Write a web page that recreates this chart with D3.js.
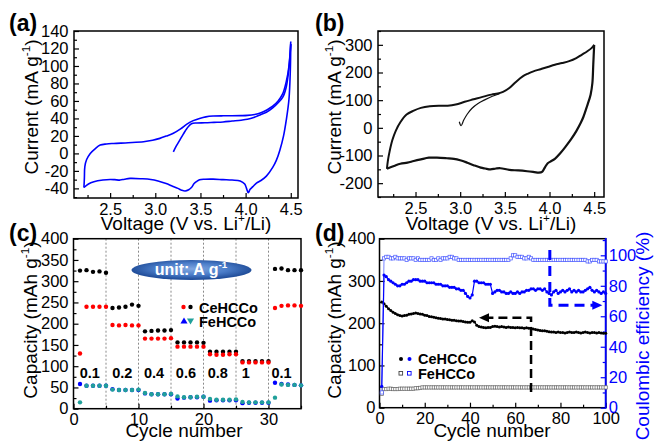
<!DOCTYPE html>
<html><head><meta charset="utf-8">
<script src="https://cdn.jsdelivr.net/npm/d3@7"></script>
<style>body{margin:0;background:#fff}svg{display:block}</style>
</head><body><svg id="c" width="654" height="444"></svg>
<script>
// ===================== DATA =====================
// (a) CV, CeHCCo (voltage V, current mA/g)
const aAnodic1V = [3.20,3.23,3.27,3.31,3.35,3.40,3.46,3.55,3.65,3.75,3.85,3.95,4.02,4.09,4.16,4.23,4.30,4.36,4.41,4.45,4.48,4.50];
const aAnodic1I = [1.8,8,15,22,28.6,34,34.8,35,35.5,36,37,38,39,41,44,47,52,58,64,76,98,125];
const aCathodicV = [4.50,4.495,4.48,4.45,4.42,4.38,4.34,4.30,4.23,4.17,4.12,4.08,4.05,4.03,4.01,3.99,3.94,3.85,3.75,3.64,3.55,3.49,3.46,3.43,3.40,3.37,3.33,3.29,3.25,3.18,3.12,3.03,2.95,2.85,2.72,2.66,2.61,2.55,2.50,2.42,2.32,2.26,2.21];
const aCathodicI = [125,95,62,38,20,4,-8,-16,-26,-31,-34,-38,-41,-45,-40,-35,-31.5,-30.5,-30,-29.4,-29.5,-30,-32,-34.5,-39,-41.5,-43,-42,-40,-37,-34.4,-31.5,-29.8,-29,-28.6,-29.5,-30.5,-30,-29.8,-30.5,-32.5,-35,-39];
const aAnodic2V = [2.21,2.215,2.22,2.24,2.28,2.33,2.39,2.46,2.54,2.70,2.87,2.97,3.05,3.12,3.20,3.28,3.35,3.42,3.49,3.56,3.64,3.75,3.85,3.95,4.02,4.10,4.17,4.24,4.30,4.36,4.41,4.45,4.48,4.50];
const aAnodic2I = [-39,-28,-15,-7,0,5,9.5,10.8,11.4,12.2,13.3,15,17.2,19.8,23,28,33.5,37.5,40,41.8,42.7,43,43,43.2,43.5,44.5,46.5,50,54,60,68,82,100,128];

// (b) CV, FeHCCo
const bStartV = [2.99,3.01,3.04,3.08,3.13,3.20,3.28,3.36,3.44];
const bStartI = [22,8,28,50,70,88,102,114,123];
const bAnodicV = [2.18,2.19,2.21,2.24,2.28,2.33,2.40,2.48,2.56,2.66,2.76,2.86,2.95,3.05,3.15,3.25,3.35,3.42,3.48,3.55,3.62,3.70,3.76,3.82,3.90,3.98,4.06,4.14,4.22,4.30,4.36,4.42,4.47,4.50];
const bAnodicI = [-148,-120,-85,-45,-10,20,48,62,72,78,80,80,84,94,103,112,120,124,130,144,165,186,196,204,212,220,228,234,241,252,264,276,288,300];
const bCathodicV = [4.50,4.49,4.48,4.46,4.42,4.38,4.35,4.30,4.24,4.18,4.12,4.06,4.01,3.98,3.95,3.92,3.88,3.83,3.75,3.65,3.55,3.45,3.40,3.34,3.28,3.23,3.15,3.08,3.00,2.93,2.85,2.74,2.65,2.56,2.48,2.41,2.33,2.26,2.18];
const bCathodicI = [300,230,162,120,78,40,18,-12,-42,-68,-92,-112,-122,-128,-142,-158,-162,-160,-157,-154,-152,-146,-147,-150,-147,-144,-135,-126,-117,-112,-110,-108,-108,-114,-120,-126,-130,-138,-148];

// (c) rate capability (capacity mAh/g per cycle 1..35)
const cCeBlack = [325,326,322,323,320, 237,238,240,245,242, 182,183,184,184,185, 156,156,156,156,155, 134,134,134,134,134, 112,112,112,112,112, 329,330,326,326,326];
const cCeRed   = [130,240,240,240,240, 197,196,197,196,196, 165,165,165,165,166, 146,146,146,146,146, 128,127,127,128,128, 109,109,109,109,109, 237,242,243,243,242];
const cFeBlue  = [58,54,54,54,54, 46,44,44,44,44, 36,34,34,34,34, 24,26,27,27,28, 19,20,20,20,20, 13,14,14,14,14, 61,58,57,56,55];
const cFeTeal  = [15,54,54,54,54, 45,44,44,44,45, 37,34,34,34,35, 29,27,27,28,28, 23,21,21,21,22, 16,15,15,15,15, 26,57,56,56,55];
const cRateLabels = ["0.1","0.2","0.4","0.6","0.8","1","0.1"];
const cRateLabelCycle = [2.5,7.5,12.4,17.3,22.2,26.5,32.0];
const cRateBounds = [5,10,15,20,25,30];

// (d) cycling (cycles 1..100)
const dCeCap = [250,246,240,234,230,226,223,220,218,217, 218,219,221,222,223,224,223,222,221,219, 218,216,215,214,213,212,211,210,210,209, 208,207,207,206,205,205,204,203,202,202, 206,203,195,192,191,190,189,190,190,192, 193,192,191,192,191,190,191,190,190,189, 190,189,189,188,189,188,188,186,185,184, 183,182,182,181,180,179,179,178,179,178, 178,177,178,179,178,178,179,178,177,178, 179,178,177,178,178,177,178,177,176,176];
const dFeCap = [33,44,44,45,45,44,44,44,45,45, 45,45,45,45,45,46,46,47,48,48, 48,48,48,48,48,48,48,48,48,48, 48,48,48,48,48,48,48,48,48,48, 48,48,48,48,48,48,48,48,48,48, 48,48,48,48,48,48,48,48,48,48, 48,48,48,48,48,48,48,48,48,48, 48,48,48,48,48,48,48,48,48,48, 48,48,48,48,48,48,48,48,48,48, 48,48,48,48,48,48,48,48,48,48];
const dCeCE = [14,87,86,84,83,82,81,80,80,81, 81,82,83,83,84,84,84,83,83,83, 82,82,82,82,81,81,81,80,80,80, 79,79,79,78,78,77,77,75,73,72, 74,83,83,82,82,82,81,81,81,75, 76,77,77,76,76,75,75,76,75,75, 76,75,76,76,77,77,78,78,77,78, 78,77,78,76,75,74,76,77,75,76, 77,76,77,78,76,77,76,77,76,76, 77,78,79,77,76,77,76,75,76,75];
const dFeCE = [10,98,99,99,98,98,99,98,98,98, 98,97,98,98,98,97,98,97,97,97, 97,97,98,97,97,98,97,98,98,98, 99,99,98,98,97,97,97,97,97,97, 97,97,97,97,97,97,97,97,97,97, 97,97,97,97,97,97,97,98,100,100, 99,99,99,98,98,99,98,97,97,97, 97,97,97,97,97,97,97,97,97,97, 97,97,97,97,97,97,97,97,97,97, 97,96,96,97,97,97,96,96,96,96];
// annotation arrows in data coordinates (cycle, value)
const dBlackArrow = {x:67, yFrom:37, yTo:213, xTip:44};
const dBlueArrow = {x:75.3, yFrom:103.5, yTo:67.2, xTip:98.5};

// tick values
const aXMajor=[2.5,3.0,3.5,4.0,4.5], aXMinor=[2.25,2.75,3.25,3.75,4.25];
const aYMajor=[-40,-20,0,20,40,60,80,100,120,140], aYMinor=[-50,-30,-10,10,30,50,70,90,110,130];
const bYMajor=[-200,-100,0,100,200,300], bYMinor=[-250,-150,-50,50,150,250,350];
const cXMajor=[0,10,20,30], cXMinor=[5,15,25,35];
const cYMajor=[0,50,100,150,200,250,300,350,400], cYMinor=[25,75,125,175,225,275,325,375];
const dXMajor=[0,20,40,60,80,100], dXMinor=[10,30,50,70,90];
const dYMajor=[0,100,200,300,400], dYMinor=[50,150,250,350];
const dRMajor=[0,20,40,60,80,100], dRMinor=[10,30,50,70,90,110];

// ===================== DRAW =====================
const FONT='"Liberation Sans", Arial, Helvetica, sans-serif';
const BLUE="#0000ff";
const svg=d3.select("#c");
svg.append("rect").attr("width",654).attr("height",444).attr("fill","#fff");

const xA=d3.scaleLinear().domain([2.1,4.58]).range([74,298]);
const yA=d3.scaleLinear().domain([-51,140]).range([198,31]);
const xB=d3.scaleLinear().domain([2.08,4.61]).range([378,604]);
const yB=d3.scaleLinear().domain([-250,350]).range([197,31]);
const xC=d3.scaleLinear().domain([0,35]).range([73.5,301]);
const yC=d3.scaleLinear().domain([0,400]).range([408.7,238.7]);
const xD=d3.scaleLinear().domain([0,100]).range([379.5,605.7]);
const yD=d3.scaleLinear().domain([0,400]).range([407.7,238.7]);
const yDR=d3.scaleLinear().domain([0,110.9]).range([407.7,238.7]);

function styleAxis(s,color,fs){
  s.select(".domain").remove();
  s.attr("font-size",fs).attr("font-family",FONT);
  s.selectAll("line").attr("stroke",color).attr("stroke-width",1.2);
  s.selectAll("text").attr("fill",color);
}
function axes(x,y,o){
  const g=svg.append("g");
  const [xl,xr]=x.range(), [yb,yt]=y.range();
  const fs=16.5;
  g.append("g").attr("transform",`translate(0,${yb})`).call(d3.axisBottom(x).tickValues(o.xMinor).tickSize(-3).tickFormat(()=>"")).call(s=>styleAxis(s,"#000",fs));
  g.append("g").attr("transform",`translate(0,${yb})`).call(d3.axisBottom(x).tickValues(o.xMajor).tickSize(-5).tickPadding(5).tickFormat(o.xFmt)).call(s=>styleAxis(s,"#000",fs));
  g.append("g").attr("transform",`translate(${xl},0)`).call(d3.axisLeft(y).tickValues(o.yMinor).tickSize(-3).tickFormat(()=>"")).call(s=>styleAxis(s,"#000",fs));
  g.append("g").attr("transform",`translate(${xl},0)`).call(d3.axisLeft(y).tickValues(o.yMajor).tickSize(-5).tickPadding(o.yPad||5).tickFormat(d=>d)).call(s=>styleAxis(s,"#000",fs));
  g.append("rect").attr("x",xl).attr("y",yt).attr("width",xr-xl).attr("height",yb-yt).attr("fill","none").attr("stroke","#000").attr("stroke-width",1.5);
  return g;
}
function rich(parent,parts,fs){
  let prevSup=false;
  parts.forEach(([t,sup])=>{
    const ts=parent.append("tspan").text(t);
    if(sup){ts.attr("font-size",fs*0.62).attr("dy",-fs*0.42);}
    else if(prevSup){ts.attr("dy",fs*0.42);}
    prevSup=sup;
  });
}
function yTitle(x,y,parts,color){
  const t=svg.append("text").attr("transform",`translate(${x},${y}) rotate(-90)`).attr("text-anchor","middle")
    .attr("font-family",FONT).attr("font-size",19).attr("fill",color||"#000");
  rich(t,parts,19);
}
function xTitle(x,y,parts){
  const t=svg.append("text").attr("x",x).attr("y",y).attr("text-anchor","middle").attr("font-family",FONT).attr("font-size",19).attr("fill","#000");
  rich(t,parts,19);
}
function panelLabel(x,y,s){
  svg.append("text").attr("x",x).attr("y",y).attr("font-family",FONT).attr("font-weight","bold").attr("font-size",23).text(s);
}
const f1=d3.format(".1f");
const voltParts=[["Voltage (V vs. Li",false],["+",true],["/Li)",false]];

// ---------- (a) ----------
axes(xA,yA,{xMajor:aXMajor,xMinor:aXMinor,yMajor:aYMajor,yMinor:aYMinor,xFmt:f1,yPad:5.5});
const lineA=d3.line().x(d=>xA(d[0])).y(d=>yA(d[1])).curve(d3.curveCatmullRom);
[[aAnodic1V,aAnodic1I],[aCathodicV,aCathodicI],[aAnodic2V,aAnodic2I]].forEach(([v,i])=>{
  svg.append("path").attr("d",lineA(d3.zip(v,i))).attr("fill","none").attr("stroke",BLUE).attr("stroke-width",1.6);
});
panelLabel(9,31,"(a)");
yTitle(38,107,[["Current (mA g",false],["-1",true],[")",false]]);
xTitle(186,230,voltParts);

// ---------- (b) ----------
axes(xB,yB,{xMajor:aXMajor,xMinor:aXMinor,yMajor:bYMajor,yMinor:bYMinor,xFmt:f1,yPad:5.5});
const lineB=d3.line().x(d=>xB(d[0])).y(d=>yB(d[1])).curve(d3.curveCatmullRom);
[[bStartV,bStartI,1.2],[bAnodicV,bAnodicI,2],[bCathodicV,bCathodicI,2.2]].forEach(([v,i,w])=>{
  svg.append("path").attr("d",lineB(d3.zip(v,i))).attr("fill","none").attr("stroke","#111").attr("stroke-width",w);
});
panelLabel(315,31,"(b)");
yTitle(341,107,[["Current (mA g",false],["-1",true],[")",false]]);
xTitle(491,230,voltParts);

// ---------- (c) ----------
const gc=svg.append("g");
cRateBounds.forEach(b=>{
  gc.append("line").attr("x1",xC(b)).attr("x2",xC(b)).attr("y1",yC(400)).attr("y2",yC(0))
    .attr("stroke","#8a8a8a").attr("stroke-width",1).attr("stroke-dasharray","2,2");
});
axes(xC,yC,{xMajor:cXMajor,xMinor:cXMinor,yMajor:cYMajor,yMinor:cYMinor,xFmt:d=>d,yPad:5});
const cSeries=[[cFeBlue,BLUE],[cFeTeal,"#20a09a"],[cCeBlack,"#000"],[cCeRed,"#ff0000"]];
cSeries.forEach(([vals,col])=>{
  svg.append("g").selectAll("circle").data(vals).join("circle")
    .attr("cx",(d,i)=>xC(i+1)).attr("cy",d=>yC(d)).attr("r",2.2).attr("fill",col);
});
cRateLabels.forEach((s,i)=>{
  svg.append("text").attr("x",xC(cRateLabelCycle[i])).attr("y",yC(72)).attr("text-anchor","middle")
    .attr("font-family",FONT).attr("font-weight","bold").attr("font-size",14.5).text(s);
});
// unit ellipse
const defs=svg.append("defs");
const rg=defs.append("radialGradient").attr("id","ell").attr("cx","50%").attr("cy","45%").attr("r","50%");
rg.append("stop").attr("offset","0%").attr("stop-color","#7fa6e0");
rg.append("stop").attr("offset","60%").attr("stop-color","#4a7cc8");
rg.append("stop").attr("offset","100%").attr("stop-color","#23509c");
svg.append("ellipse").attr("cx",191.5).attr("cy",270).attr("rx",60).attr("ry",10).attr("fill","url(#ell)");
const ut=svg.append("text").attr("x",191).attr("y",275).attr("text-anchor","middle").attr("font-family",FONT)
  .attr("font-weight","bold").attr("font-size",16).attr("fill","#fff");
rich(ut,[["unit: A g",false],["-1",true]],16);
// legend (c)
svg.append("circle").attr("cx",183.5).attr("cy",307).attr("r",2.2).attr("fill","#ff0000");
svg.append("circle").attr("cx",190.5).attr("cy",307).attr("r",2.2).attr("fill","#000");
svg.append("path").attr("d",d3.symbol(d3.symbolTriangle,22)()).attr("transform","translate(184,321.5)").attr("fill",BLUE);
svg.append("path").attr("d",d3.symbol(d3.symbolTriangle,22)()).attr("transform","translate(190.5,320.5) rotate(180)").attr("fill","#20a09a");
svg.append("text").attr("x",199).attr("y",312.5).attr("font-family",FONT).attr("font-weight","bold").attr("font-size",14.5).text("CeHCCo");
svg.append("text").attr("x",199).attr("y",327).attr("font-family",FONT).attr("font-weight","bold").attr("font-size",14.5).text("FeHCCo");
panelLabel(9,241,"(c)");
yTitle(37,320,[["Capacity (mAh g",false],["-1",true],[")",false]]);
xTitle(184,437,[["Cycle number",false]]);

// ---------- (d) ----------
axes(xD,yD,{xMajor:dXMajor,xMinor:dXMinor,yMajor:dYMajor,yMinor:dYMinor,xFmt:d=>d,yPad:4});
svg.append("g").attr("transform",`translate(${xD.range()[1]},0)`).call(d3.axisRight(yDR).tickValues(dRMinor).tickSize(-3).tickFormat(()=>"")).call(s=>styleAxis(s,BLUE,16.5));
svg.append("g").attr("transform",`translate(${xD.range()[1]},0)`).call(d3.axisRight(yDR).tickValues(dRMajor).tickSize(-5).tickPadding(3).tickFormat(d=>d)).call(s=>styleAxis(s,BLUE,16.5));
svg.append("line").attr("x1",xD.range()[1]).attr("x2",xD.range()[1]).attr("y1",yD.range()[0]+0.75).attr("y2",yD.range()[1]-0.75).attr("stroke",BLUE).attr("stroke-width",1.8);

const lineD=(ys,sc)=>d3.line().x((d,i)=>xD(i+1)).y(d=>sc(d))(ys);
svg.append("path").attr("d",lineD(dFeCap,yD)).attr("fill","none").attr("stroke","#777").attr("stroke-width",0.8);
svg.append("g").selectAll("rect").data(dFeCap).join("rect").attr("x",(d,i)=>xD(i+1)-1.6).attr("y",d=>yD(d)-1.6)
  .attr("width",3.2).attr("height",3.2).attr("fill","#fff").attr("stroke","#666").attr("stroke-width",0.7);
svg.append("path").attr("d",lineD(dCeCap,yD)).attr("fill","none").attr("stroke","#000").attr("stroke-width",1.2);
svg.append("g").selectAll("circle").data(dCeCap).join("circle").attr("cx",(d,i)=>xD(i+1)).attr("cy",d=>yD(d)).attr("r",1.5).attr("fill","#000");
svg.append("path").attr("d",lineD(dFeCE,yDR)).attr("fill","none").attr("stroke","#5566ff").attr("stroke-width",0.8);
svg.append("g").selectAll("rect").data(dFeCE).join("rect").attr("x",(d,i)=>xD(i+1)-1.6).attr("y",d=>yDR(d)-1.6)
  .attr("width",3.2).attr("height",3.2).attr("fill","#fff").attr("stroke","#4455ff").attr("stroke-width",0.7);
svg.append("path").attr("d",lineD(dCeCE,yDR)).attr("fill","none").attr("stroke",BLUE).attr("stroke-width",1.2);
svg.append("g").selectAll("circle").data(dCeCE).join("circle").attr("cx",(d,i)=>xD(i+1)).attr("cy",d=>yDR(d)).attr("r",1.6).attr("fill",BLUE);

(function(){
  const a=dBlackArrow, X=xD(a.x), Y0=yD(a.yFrom), Y1=yD(a.yTo), XT=xD(a.xTip);
  svg.append("path").attr("d",`M${X},${Y0}V${Y1}H${XT+9}`).attr("fill","none").attr("stroke","#000").attr("stroke-width",2.5).attr("stroke-dasharray","9,5");
  svg.append("path").attr("d",`M${XT},${Y1}L${XT+10},${Y1-4.5}L${XT+10},${Y1+4.5}Z`).attr("fill","#000");
  const b=dBlueArrow, BX=xD(b.x), BY0=yDR(b.yFrom), BY1=yDR(b.yTo), BXT=xD(b.xTip);
  svg.append("path").attr("d",`M${BX},${BY0}V${BY1}H${BXT-9}`).attr("fill","none").attr("stroke",BLUE).attr("stroke-width",3).attr("stroke-dasharray","10,6");
  svg.append("path").attr("d",`M${BXT},${BY1}L${BXT-10},${BY1-4.5}L${BXT-10},${BY1+4.5}Z`).attr("fill",BLUE);
})();
svg.append("circle").attr("cx",401).attr("cy",359).attr("r",2).attr("fill","#000");
svg.append("circle").attr("cx",409.5).attr("cy",359).attr("r",2).attr("fill",BLUE);
svg.append("rect").attr("x",399).attr("y",371.5).attr("width",3.6).attr("height",3.6).attr("fill","#fff").attr("stroke","#444").attr("stroke-width",0.9);
svg.append("rect").attr("x",407.5).attr("y",371.5).attr("width",3.6).attr("height",3.6).attr("fill","#fff").attr("stroke",BLUE).attr("stroke-width",0.9);
svg.append("text").attr("x",418).attr("y",363.5).attr("font-family",FONT).attr("font-weight","bold").attr("font-size",14.5).text("CeHCCo");
svg.append("text").attr("x",418).attr("y",378.5).attr("font-family",FONT).attr("font-weight","bold").attr("font-size",14.5).text("FeHCCo");
panelLabel(315,241,"(d)");
yTitle(341,320,[["Capacity (mAh g",false],["-1",true],[")",false]]);
xTitle(492,437,[["Cycle number",false]]);
yTitle(649,336,[["Coulombic efficiency (%)",false]],BLUE);
</script></body></html>
